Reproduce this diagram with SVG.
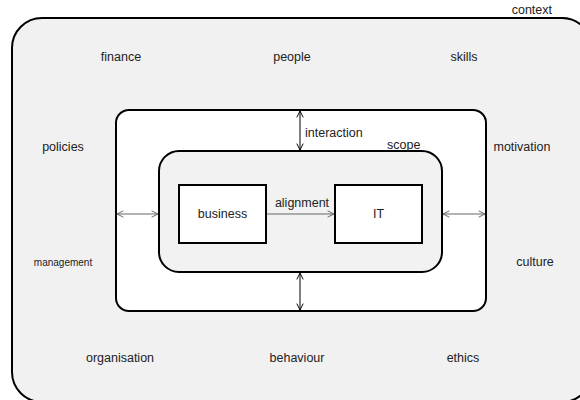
<svg xmlns="http://www.w3.org/2000/svg" width="580" height="400" viewBox="0 0 580 400">
<defs>
<style>
text{font-family:"Liberation Sans",Arial,sans-serif;font-size:12.5px;fill:#222}
.c{text-anchor:middle}
.box{stroke:#000;stroke-width:2}
.conn{stroke:#000;stroke-width:1;fill:none}
.g{stroke:#666}
</style>
<marker id="ahk" viewBox="0 0 10 10" refX="9" refY="5" markerWidth="8" markerHeight="8" orient="auto-start-reverse" markerUnits="userSpaceOnUse">
<path d="M1,1 L9,5 L1,9" fill="none" stroke="#000" stroke-width="1.2"/>
</marker>
<marker id="ahg" viewBox="0 0 10 10" refX="9" refY="5" markerWidth="8" markerHeight="8" orient="auto-start-reverse" markerUnits="userSpaceOnUse">
<path d="M1,1 L9,5 L1,9" fill="none" stroke="#666" stroke-width="1.2"/>
</marker>
</defs>
<rect width="580" height="400" fill="#fff"/>
<g id="context">
<rect class="box" x="12" y="18" width="580" height="384" rx="30" fill="#f1f1f1"/>
<text x="552" y="14" text-anchor="end">context</text>
</g>
<g id="factors">
<text class="c" x="121" y="61">finance</text>
<text class="c" x="292" y="61">people</text>
<text class="c" x="464" y="61">skills</text>
<text class="c" x="63" y="151">policies</text>
<text class="c" x="522" y="151">motivation</text>
<text class="c" x="63" y="266" style="font-size:10px">management</text>
<text class="c" x="535" y="266">culture</text>
<text class="c" x="120" y="362">organisation</text>
<text class="c" x="297" y="362">behaviour</text>
<text class="c" x="463" y="362">ethics</text>
</g>
<g id="interaction-area">
<rect class="box" x="116" y="110" width="370" height="201" rx="13" fill="#fff"/>
</g>
<g id="scope">
<rect class="box" x="159" y="151" width="283" height="121" rx="20" fill="#f2f2f2"/>
<text x="387" y="149">scope</text>
</g>
<g id="business">
<rect class="box" x="179" y="185" width="87" height="58" fill="#fff"/>
<text class="c" x="222.5" y="218">business</text>
</g>
<g id="it">
<rect class="box" x="335" y="185" width="87" height="58" fill="#fff"/>
<text class="c" x="378.5" y="218">IT</text>
</g>
<g id="connectors">
<line class="conn" x1="300" y1="111" x2="300" y2="150" marker-start="url(#ahk)" marker-end="url(#ahk)"/>
<text x="305" y="137">interaction</text>
<line class="conn" x1="300" y1="273" x2="300" y2="310" marker-start="url(#ahk)" marker-end="url(#ahk)"/>
<line class="conn g" x1="117" y1="214" x2="158" y2="214" marker-start="url(#ahg)" marker-end="url(#ahg)"/>
<line class="conn g" x1="443" y1="214" x2="485" y2="214" marker-start="url(#ahg)" marker-end="url(#ahg)"/>
<line class="conn g" x1="267" y1="214" x2="334" y2="214" marker-end="url(#ahg)"/>
<text class="c" x="302" y="207">alignment</text>
</g>
</svg>
